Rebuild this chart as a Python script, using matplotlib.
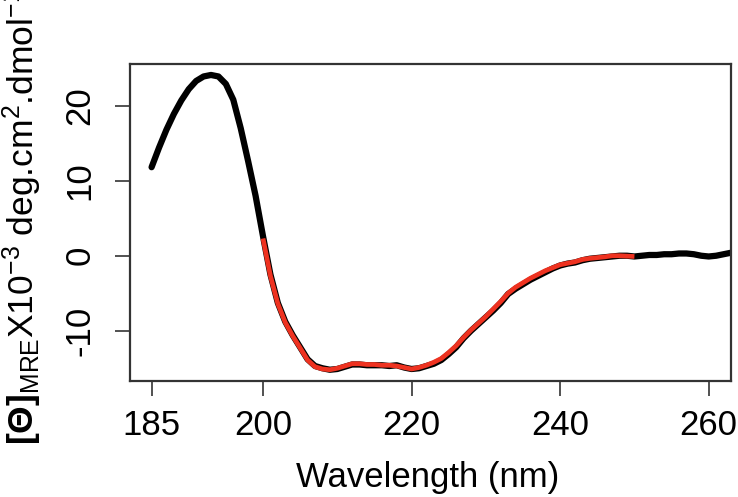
import matplotlib
matplotlib.use("Agg")
import matplotlib.pyplot as plt

plt.rcParams['font.family'] = ['Liberation Sans', 'DejaVu Sans']
plt.rcParams['mathtext.fontset'] = 'custom'
plt.rcParams['mathtext.rm'] = 'Liberation Sans'
plt.rcParams['mathtext.bf'] = 'Liberation Sans:bold'
plt.rcParams['mathtext.it'] = 'Liberation Sans:italic'

# full spectrum (black)
wl_black = list(range(185, 264))
mre_black = [11.8, 14.4, 16.8, 18.9, 20.7, 22.2, 23.3, 23.9, 24.1, 23.9,
             22.9, 20.8, 17.0, 12.6, 8.0, 2.6, -2.5, -6.3, -8.8, -10.6,
             -12.2, -13.8, -14.7, -15.0, -15.2, -15.1, -14.8, -14.5, -14.5, -14.6,
             -14.6, -14.6, -14.7, -14.6, -14.9, -15.1, -15.0, -14.7, -14.4, -13.9,
             -13.1, -12.2, -11.0, -10.0, -9.1, -8.2, -7.3, -6.3, -5.1, -4.4,
             -3.8, -3.2, -2.7, -2.2, -1.7, -1.3, -1.05, -0.9, -0.6, -0.4,
             -0.3, -0.2, -0.1, 0.0, 0.0, -0.1, 0.0, 0.1, 0.1, 0.2,
             0.2, 0.3, 0.3, 0.2, 0.0, -0.1, 0.0, 0.2, 0.4]

# second spectrum (red), 200-250 nm
wl_red = list(range(200, 251))
mre_red = [2.3, -2.7, -6.4, -8.9, -10.7, -12.3, -13.9, -14.8, -15.1, -15.2,
           -15.0, -14.7, -14.4, -14.4, -14.5, -14.5, -14.6, -14.6, -14.7, -14.9,
           -15.1, -14.9, -14.6, -14.2, -13.7, -12.9, -12.0, -10.9, -9.9, -9.0,
           -8.1, -7.1, -6.1, -5.0, -4.2, -3.6, -3.0, -2.5, -2.0, -1.6,
           -1.2, -1.0, -0.8, -0.5, -0.35, -0.25, -0.15, 0.0, 0.0, -0.05, -0.1]

x_ticks = [185, 200, 220, 240, 260]
y_ticks = [-10, 0, 10, 20]

fig = plt.figure(figsize=(7.38, 4.97), dpi=100)
ax = fig.add_axes([0.1762, 0.2334, 0.8143, 0.6378])

ax.plot(wl_black, mre_black, color='black', lw=4.5, solid_capstyle='round')
ax.plot(wl_red, mre_red, color='#ee3220', lw=3.4, solid_capstyle='butt')

ax.set_xlim(182.1, 263.0)
ax.set_ylim(-16.7, 25.56)
ax.set_xticks(x_ticks)
ax.set_yticks(y_ticks)
ax.set_yticklabels([str(v) for v in y_ticks], rotation=90, va='center')

for s in ax.spines.values():
    s.set_color('#333333')
    s.set_linewidth(1.6)
ax.tick_params(axis='both', direction='out', length=11, width=1.2,
               color='#333333', labelsize=25)
ax.tick_params(axis='x', pad=9)
ax.tick_params(axis='y', pad=13)

fig.text(0.5 + 0.08, 1 - 478 / 497, 'Wavelength (nm)', ha='center', va='center', fontsize=25)
fig.text(22 / 738, 1 - 445 / 497,
         r'$\mathbf{[\Theta]}_{\mathrm{MRE}}$X10$^{-3}$ deg.cm$^{2}$.dmol$^{-1}$',
         rotation=90, ha='center', va='bottom', fontsize=25.5)

fig.savefig('out.png', dpi=100)
